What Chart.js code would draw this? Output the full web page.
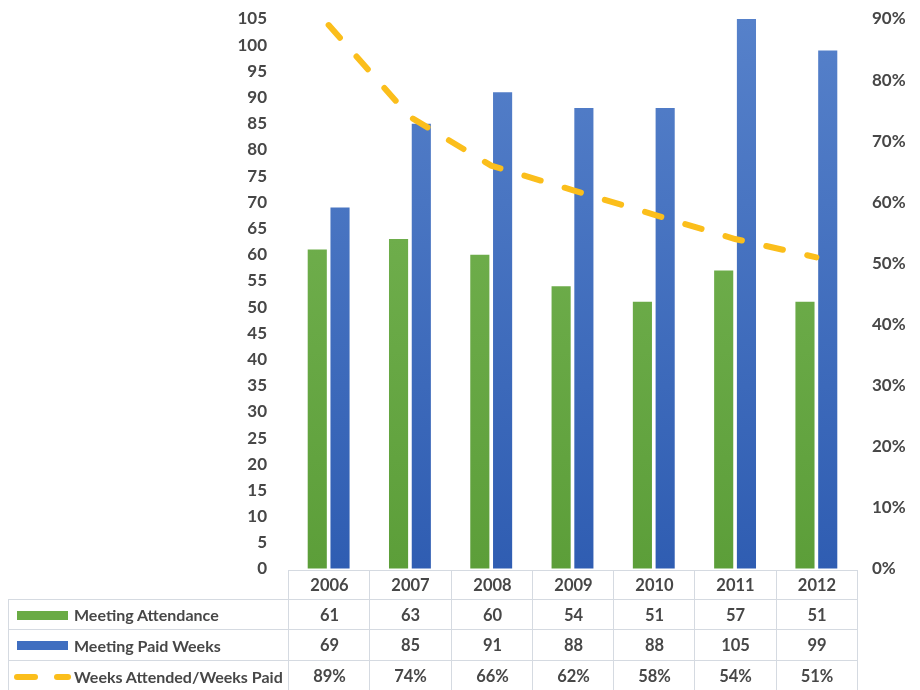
<!DOCTYPE html>
<html><head><meta charset="utf-8">
<script src="https://cdn.jsdelivr.net/npm/chart.js@4"></script>
<style>
html,body{margin:0;padding:0;background:#fff;}
#wrap{position:relative;width:920px;height:690px;overflow:hidden;}
#c{position:absolute;left:0;top:0;}
#tbl{position:absolute;left:0;top:0;width:920px;height:690px;pointer-events:none;}
.cell{position:absolute;box-sizing:border-box;border-left:1px solid #d5dae1;border-top:1px solid #d5dae1;
  font-family:Lato,"Open Sans",sans-serif;font-weight:bold;font-size:16.5px;color:#474747;
  display:flex;align-items:center;justify-content:center;}
.cell.last{border-right:1px solid #d5dae1;}
.lab{justify-content:flex-start;font-size:16px;}
.key{position:absolute;}
.txt{position:absolute;white-space:nowrap;}
</style></head>
<body><div id="wrap"><canvas id="c" width="920" height="690"></canvas><div id="tbl"></div></div>
<script>
const years = ['2006','2007','2008','2009','2010','2011','2012'];
const attendance = [61, 63, 60, 54, 51, 57, 51];
const paidWeeks = [69, 85, 91, 88, 88, 105, 99];
const ratio = [0.89, 0.74, 0.66, 0.62, 0.58, 0.54, 0.51];
const seriesNames = ['Meeting Attendance', 'Meeting Paid Weeks', 'Weeks Attended/Weeks Paid'];
const leftTicksMax = 105;
const rightTicksMax = 0.9;

const FONT = {family: 'Lato, "Open Sans", sans-serif', size: 17, weight: 'bold'};
const TXT = '#474747';

function grad(top, bottom) {
  return (ctx) => {
    const a = ctx.chart.chartArea;
    if (!a) return bottom;
    const g = ctx.chart.ctx.createLinearGradient(0, a.top, 0, a.bottom);
    g.addColorStop(0, top); g.addColorStop(1, bottom);
    return g;
  };
}

const chart = new Chart(document.getElementById('c'), {
  data: {
    labels: years,
    datasets: [
      {type: 'line', label: seriesNames[2], data: ratio, yAxisID: 'y1', order: 0,
       borderColor: '#FBBE1B', borderWidth: 6, borderDash: [17, 25], borderCapStyle: 'round',
       pointRadius: 0, fill: false, tension: 0},
      {type: 'bar', label: seriesNames[0], data: attendance, yAxisID: 'y', order: 1,
       backgroundColor: grad('#7ab757', '#5c9e39'), categoryPercentage: 0.56, barPercentage: 0.84},
      {type: 'bar', label: seriesNames[1], data: paidWeeks, yAxisID: 'y', order: 1,
       backgroundColor: grad('#5681ca', '#2f5db2'), categoryPercentage: 0.56, barPercentage: 0.84}
    ]
  },
  options: {
    responsive: false, animation: false, maintainAspectRatio: false,
    layout: {padding: {top: 19, bottom: 121, left: 0, right: 0}},
    plugins: {legend: {display: false}, tooltip: {enabled: false}},
    scales: {
      x: {display: false},
      y: {position: 'left', min: 0, max: leftTicksMax,
          grid: {display: true, drawOnChartArea: false, drawTicks: true, tickLength: 21, color: 'rgba(0,0,0,0)'},
          border: {display: false},
          ticks: {stepSize: 5, autoSkip: false, padding: 0, color: TXT, font: FONT},
          afterFit: (s) => { s.width = 288; }},
      y1: {position: 'right', min: 0, max: rightTicksMax,
          grid: {display: true, drawOnChartArea: false, drawTicks: true, tickLength: 15, color: 'rgba(0,0,0,0)'},
          border: {display: false},
          ticks: {stepSize: 0.1, autoSkip: false, padding: 0, color: TXT, font: FONT,
                  callback: (v) => Math.round(v * 100) + '%'},
          afterFit: (s) => { s.width = 63; }}
    }
  }
});

// Data table built from the same arrays, aligned on the x scale
(function buildTable() {
  const tbl = document.getElementById('tbl');
  const a = chart.chartArea;
  const xs = chart.scales.x;
  const n = years.length;
  const colW = (a.right - a.left) / n;
  const top0 = 570;
  const rowTops = [top0, top0 + 29, top0 + 59, top0 + 90];
  const rowH = [29, 30, 31, 31];
  const labelLeft = 8;
  function cell(left, top, w, h, text, cls) {
    const d = document.createElement('div');
    d.className = 'cell' + (cls ? ' ' + cls : '');
    d.style.left = left + 'px'; d.style.top = top + 'px';
    d.style.width = w + 'px'; d.style.height = h + 'px';
    if (text !== null) d.textContent = text;
    tbl.appendChild(d);
    return d;
  }
  function valueRow(vals, r) {
    vals.forEach((v, i) => {
      const cx = xs.getPixelForValue(i);
      cell(Math.round(cx - colW / 2), rowTops[r], Math.round(colW) + 1, rowH[r], v, i === n - 1 ? 'last' : '');
    });
  }
  valueRow(years, 0);
  const rows = [
    {vals: attendance.map(String), key: 'bar', color: '#6aab45'},
    {vals: paidWeeks.map(String), key: 'bar', color: '#3f6ec0'},
    {vals: ratio.map(v => Math.round(v * 100) + '%'), key: 'dash', color: '#FBBE1B'}
  ];
  rows.forEach((row, k) => {
    const r = k + 1;
    const lc = cell(labelLeft, rowTops[r], a.left - labelLeft + 1, rowH[r], null, 'lab');
    if (row.key === 'bar') {
      const s = document.createElement('span'); s.className = 'key';
      s.style.cssText = `left:8px;top:${(rowH[r] - 9) / 2}px;width:51px;height:9px;background:${row.color};`;
      lc.appendChild(s);
    } else {
      [[5, 24], [45, 17]].forEach(([l, w]) => {
        const s = document.createElement('span'); s.className = 'key';
        s.style.cssText = `left:${l}px;top:${(rowH[r] - 6) / 2}px;width:${w}px;height:6px;border-radius:3px;background:${row.color};`;
        lc.appendChild(s);
      });
    }
    const t = document.createElement('span'); t.className = 'txt';
    t.style.left = '65px'; t.textContent = seriesNames[k];
    lc.appendChild(t);
    valueRow(row.vals, r);
  });
})();
</script>
</body></html>
